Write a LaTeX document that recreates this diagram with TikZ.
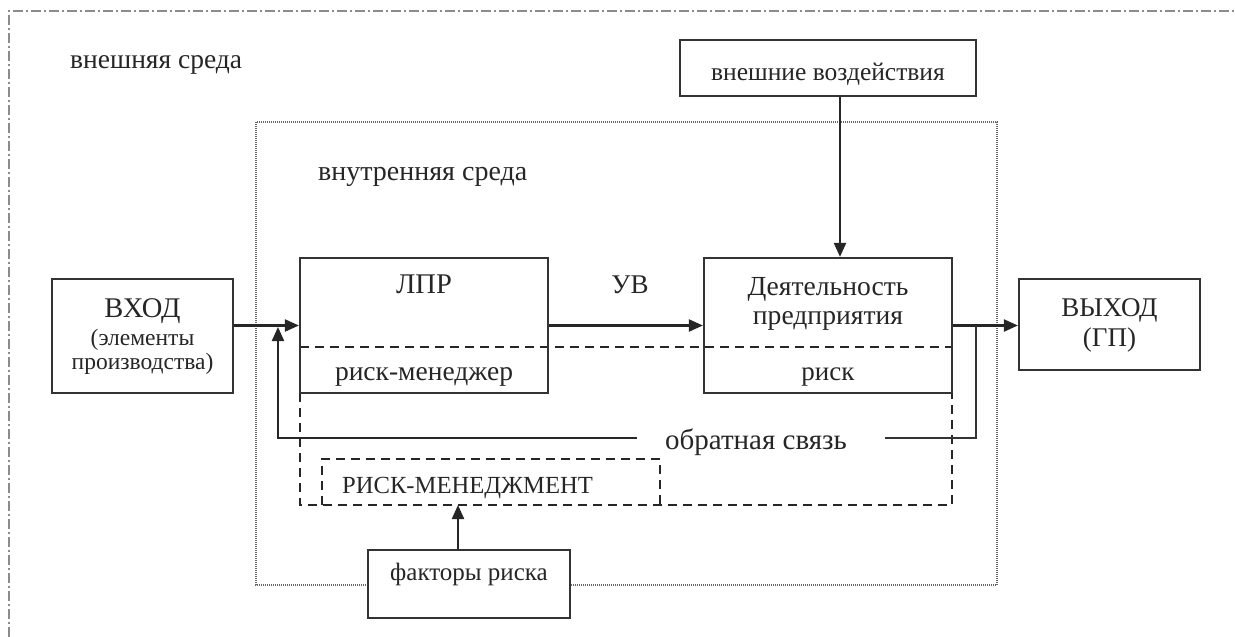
\documentclass[tikz,border=0pt]{standalone}
\usepackage{fontspec}
\setmainfont{Liberation Serif}
\usetikzlibrary{arrows.meta,calc}
\begin{document}
\begin{tikzpicture}[x=1pt,y=-1pt,
  fs/.style={font=\fontsize{#1}{#1}\selectfont, text=black!85, inner sep=0pt, anchor=base},
  box/.style={draw=black!80, line width=2.2pt, fill=white, inner sep=0pt},
  arr/.style={draw=black!85, line width=2.2pt, -{Triangle[length=14pt,width=12pt]}},
  ln/.style={draw=black!80, line width=2.2pt},
  dsh/.style={draw=black!85, line width=2.2pt, dash pattern=on 9pt off 6pt},
  outerframe/.style={draw=black!45, line width=1.3pt, dash pattern=on 10pt off 3pt on 2pt off 3pt},
  innerframe/.style={draw=black!60, line width=1.6pt, dash pattern=on 1pt off 1pt}]
\useasboundingbox (0,0) rectangle (1235,637);
% frames
\draw[outerframe] (9,637) -- (9,11) -- (1235,11);
\draw[innerframe] (256,122) rectangle (997,585);
\node[fs=27.5, anchor=base west] (ext) at (70,68) {внешняя среда};
\node[fs=28, anchor=base west] (int) at (318,180) {внутренняя среда};
% risk-management dashed region
\draw[dsh] (300,347) -- (952,347);
\draw[dsh] (300,393) -- (300,505) -- (952,505) -- (952,393);
\draw[dsh] (322,505) -- (322,459) -- (660,459) -- (660,505);
\node[fs=24.6, anchor=base west] (rmt) at (342,493) {РИСК-МЕНЕДЖМЕНТ};
% boxes
\node[box, minimum width=296pt, minimum height=56pt] (vozd) at (828,68) {};
\node[fs=25.5] (vozdT) at (828,80) {внешние воздействия};
\node[box, minimum width=181pt, minimum height=114pt] (vhod) at (142.5,336) {};
\node[fs=28.5] (vhodA) at (142.5,317) {ВХОД};
\node[fs=23.5] (vhodB) at (142.5,345) {(элементы};
\node[fs=23.5] (vhodC) at (142.5,369) {производства)};
\node[box, fill=none, minimum width=248pt, minimum height=135pt] (lpr) at (424,325.5) {};
\node[fs=28.5] (lprA) at (424,293) {ЛПР};
\node[fs=27.5] (lprB) at (424,380) {риск-менеджер};
\node[box, fill=none, minimum width=248pt, minimum height=135pt] (deyat) at (828,325.5) {};
\node[fs=27.6] (deyA) at (828,295) {Деятельность};
\node[fs=27.6] (deyB) at (828,324) {предприятия};
\node[fs=27] (deyC) at (828,380) {риск};
\node[box, minimum width=181pt, minimum height=91pt] (vyhod) at (1109.5,324.5) {};
\node[fs=27] (vyA) at (1109.5,316) {ВЫХОД};
\node[fs=27] (vyB) at (1109.5,346) {(ГП)};
\node[box, minimum width=202pt, minimum height=68pt] (fakt) at (469,584) {};
\node[fs=25] (faktT) at (469,580) {факторы риска};
\node[fs=27] (uv) at (630,293) {УВ};
\node[fs=29] (fb) at (756,449) {обратная связь};
% connectors
\draw[arr] (vhod.east |- lpr.west) -- (lpr.west);
\draw[arr] (lpr.east) -- (deyat.west);
\draw[arr] (deyat.east) -- (vyhod.west |- deyat.east);
\draw[arr] ($(vozd.south)+(12,0)$) -- ($(deyat.north)+(12,0)$);
\draw[arr] ($(fakt.north)+(-11,0)$) -- (458,505);
\coordinate (fbR) at (976,325.5);
\coordinate (fbL) at (278,438);
\draw[ln] (fbR) -- (976,438) -- (885,438);
\draw[arr] (637,438) -- (fbL) -- (278,327);
\end{tikzpicture}
\end{document}
